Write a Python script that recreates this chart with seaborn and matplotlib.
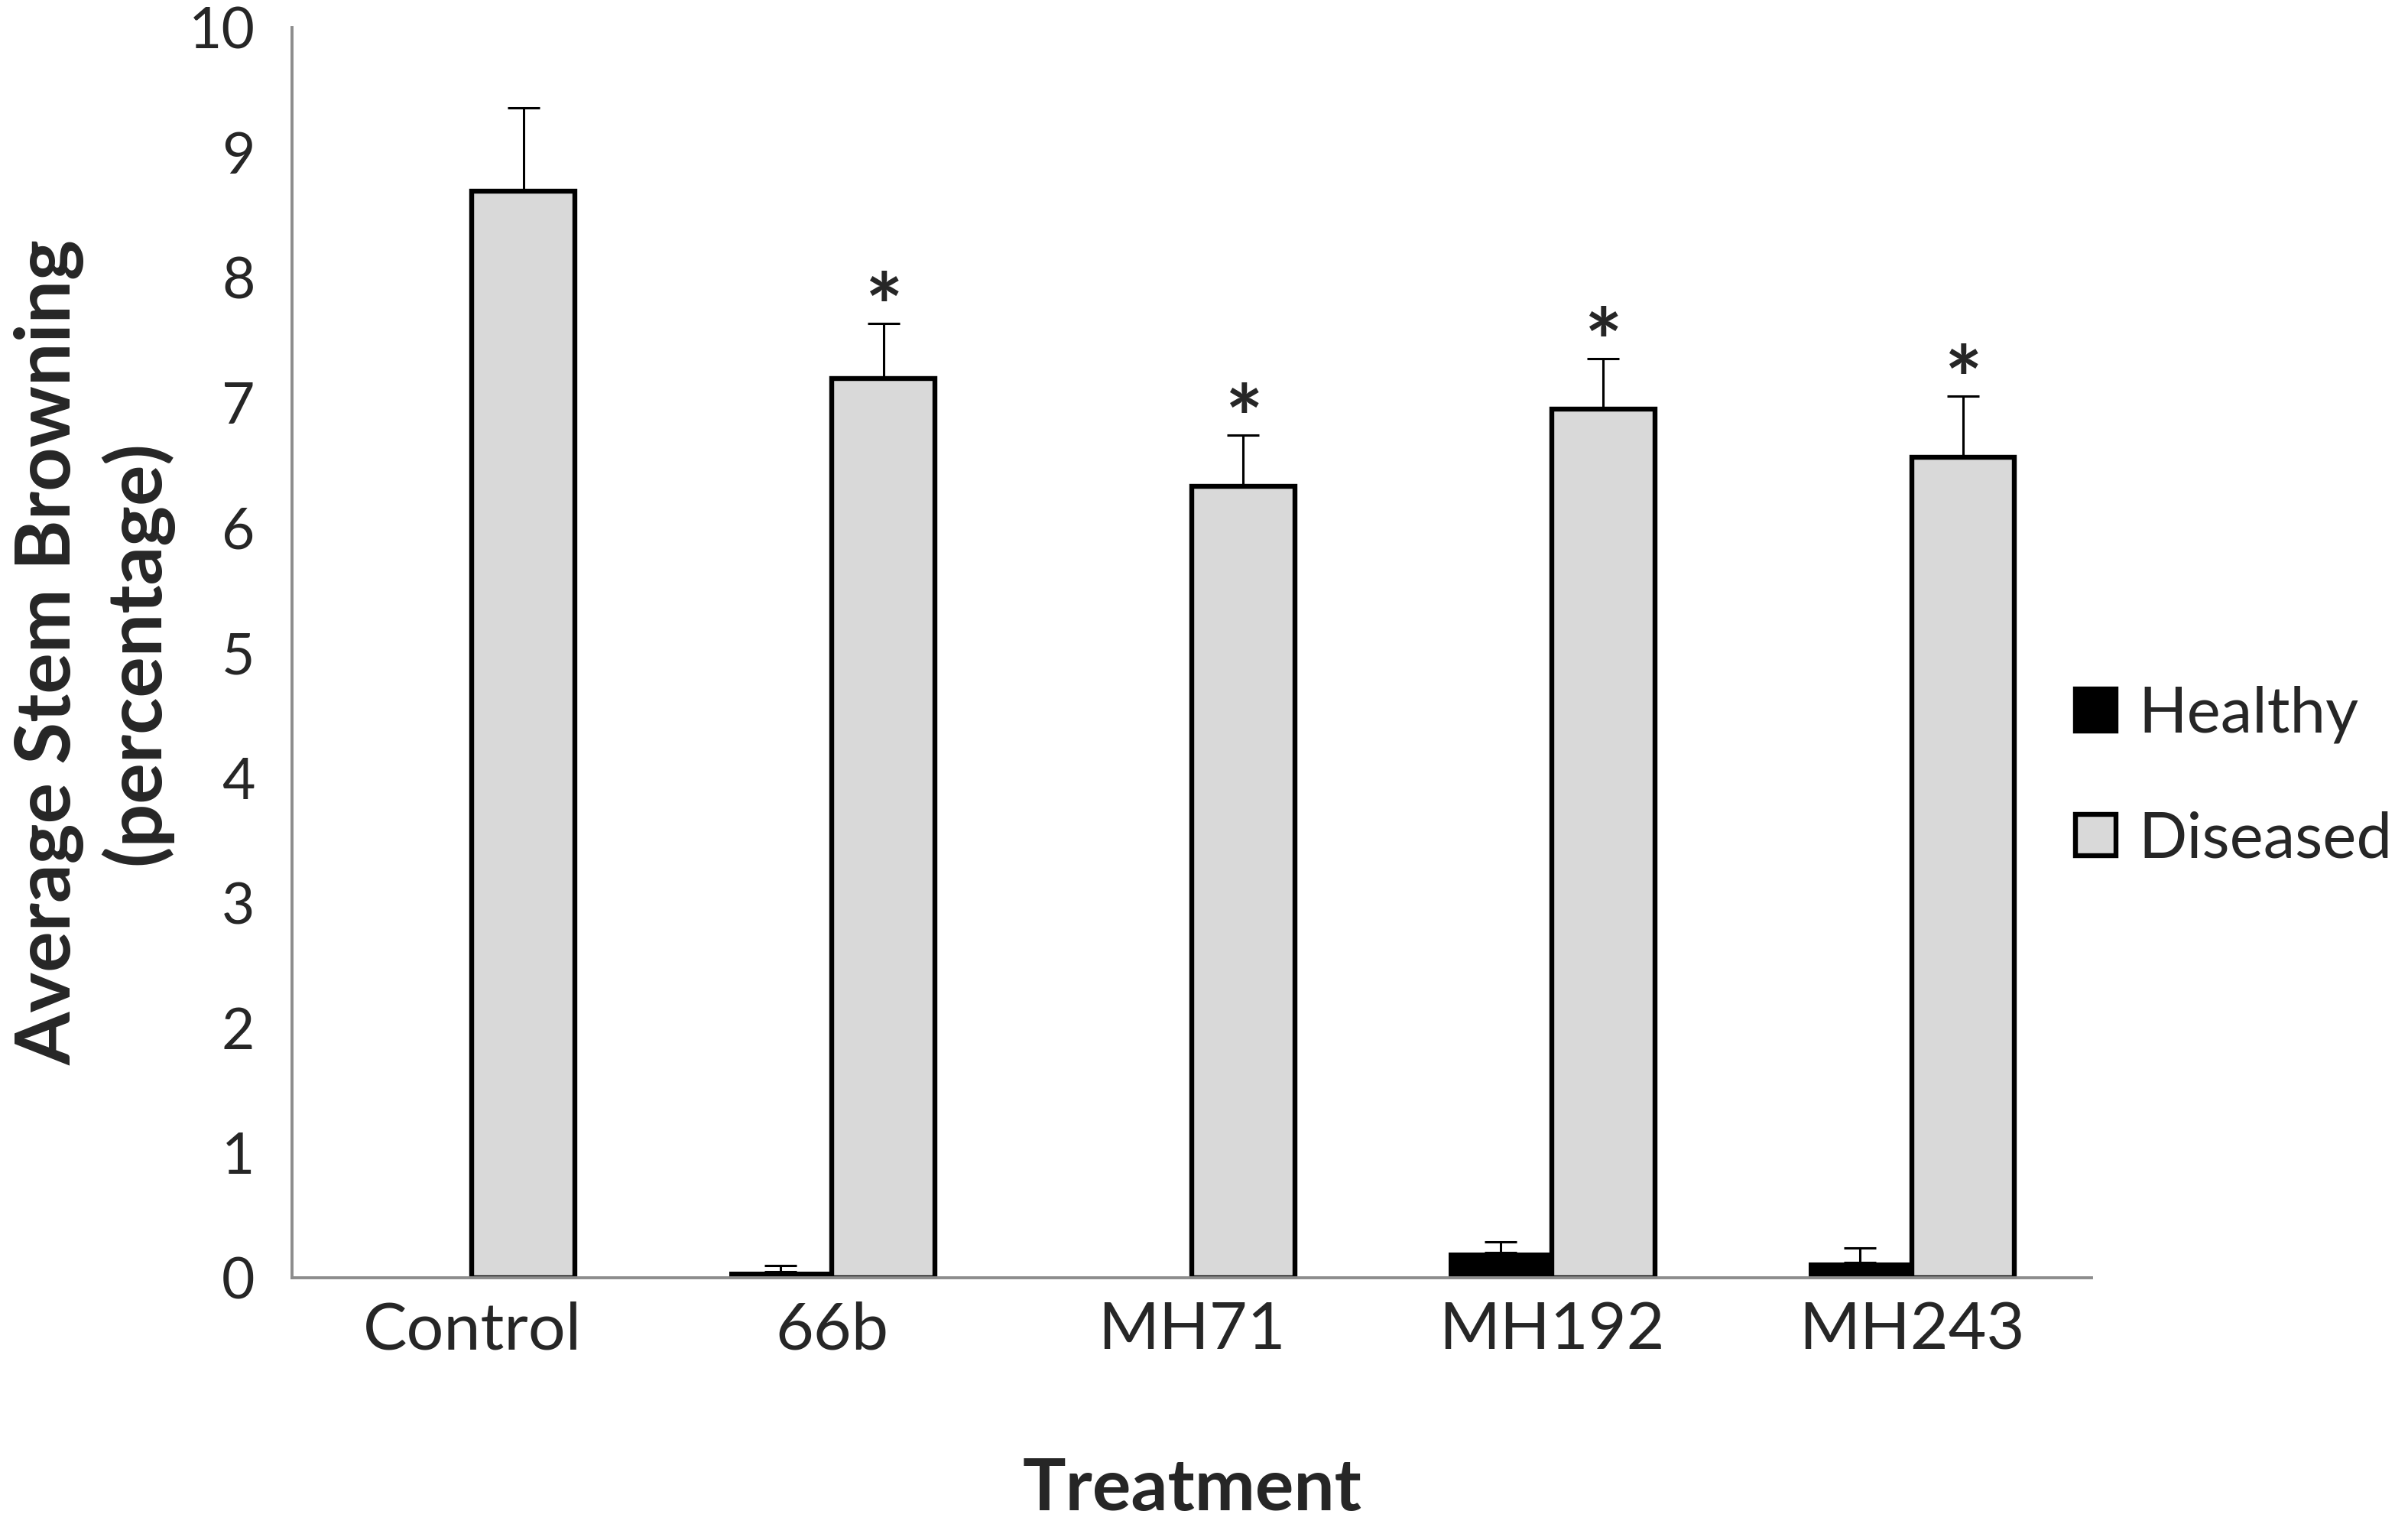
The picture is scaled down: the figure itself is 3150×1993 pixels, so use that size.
import numpy as np
import pandas as pd
import matplotlib
matplotlib.use('Agg')
import matplotlib.pyplot as plt
import seaborn as sns

# Values
treatments = ['Control', '66b', 'MH71', 'MH192', 'MH243']
healthy = [0.0, 0.05, 0.0, 0.20, 0.12]
healthy_err = [0.0, 0.05, 0.0, 0.09, 0.12]
diseased = [8.69, 7.19, 6.33, 6.95, 6.56]
diseased_err = [0.67, 0.44, 0.41, 0.40, 0.49]
significant = ['', '*', '*', '*', '*']
conditions = ['Healthy', 'Diseased']

df = pd.DataFrame({
    'Treatment': treatments * 2,
    'Condition': ['Healthy'] * len(treatments) + ['Diseased'] * len(treatments),
    'Value': healthy + diseased,
})

sns.set_style('white')
plt.rcParams['font.family'] = ['Lato', 'DejaVu Sans']

grey = '#8c8c8c'

fig, ax = plt.subplots(figsize=(15.75, 9.965), dpi=200)
fig.subplots_adjust(left=0.1213, right=0.8686, bottom=0.1616, top=0.982)

sns.barplot(data=df, x='Treatment', y='Value', hue='Condition',
            hue_order=conditions, order=treatments,
            palette={'Healthy': 'black', 'Diseased': '#d9d9d9'},
            width=0.572, gap=0, errorbar=None,
            edgecolor='black', linewidth=2.3, ax=ax)

# healthy bars have no outline so the zero ones vanish
for bar in ax.containers[0]:
    bar.set_linewidth(0)

# upper-only error bars
for cont, vals, errs in zip(ax.containers, [healthy, diseased], [healthy_err, diseased_err]):
    for bar, v, e in zip(cont, vals, errs):
        if e > 0:
            xc = bar.get_x() + bar.get_width() / 2
            ax.errorbar(xc, v, yerr=[[0], [e]], fmt='none', ecolor='black',
                        elinewidth=1.1, capsize=7.5, capthick=1.1, zorder=1)

# significance stars
for bar, v, e, s in zip(ax.containers[1], diseased, diseased_err, significant):
    if s:
        xc = bar.get_x() + bar.get_width() / 2
        ax.text(xc, v + e - 0.12, s, ha='center', va='baseline', fontsize=42,
                fontweight='bold')

ax.set_xlim(-0.5, len(treatments) - 0.5)
ax.set_ylim(0, 10)
ax.set_yticks(range(0, 11))
ax.set_xticks(np.arange(-0.5, len(treatments), 1), minor=True)
ax.tick_params(axis='x', which='major', length=0, pad=11, labelsize=31)
ax.tick_params(axis='x', which='minor', length=11.5, width=1.2, color=grey, direction='out')
ax.tick_params(axis='y', length=10, width=1.2, color=grey, direction='out', pad=7.5, labelsize=27)

for side in ['top', 'right']:
    ax.spines[side].set_visible(False)
for side in ['left', 'bottom']:
    ax.spines[side].set_color(grey)
    ax.spines[side].set_linewidth(1.4)

ax.set_xlabel('Treatment', fontsize=34, fontweight='bold')
ax.set_ylabel('Average Stem Browning\n(percentage)', fontsize=36, fontweight='bold',
              linespacing=1.25)
ax.yaxis.set_label_coords(-0.066, 0.5)
ax.xaxis.set_label_coords(0.5, -0.143)

sns.move_legend(ax, 'center left', bbox_to_anchor=(0.862, 0.49),
                bbox_transform=fig.transFigure, frameon=False, title=None,
                fontsize=30, handlelength=0.63, handleheight=0.63,
                handletextpad=0.36, labelspacing=1.05, borderpad=0, borderaxespad=0)

fig.savefig('out.png', dpi=200)
